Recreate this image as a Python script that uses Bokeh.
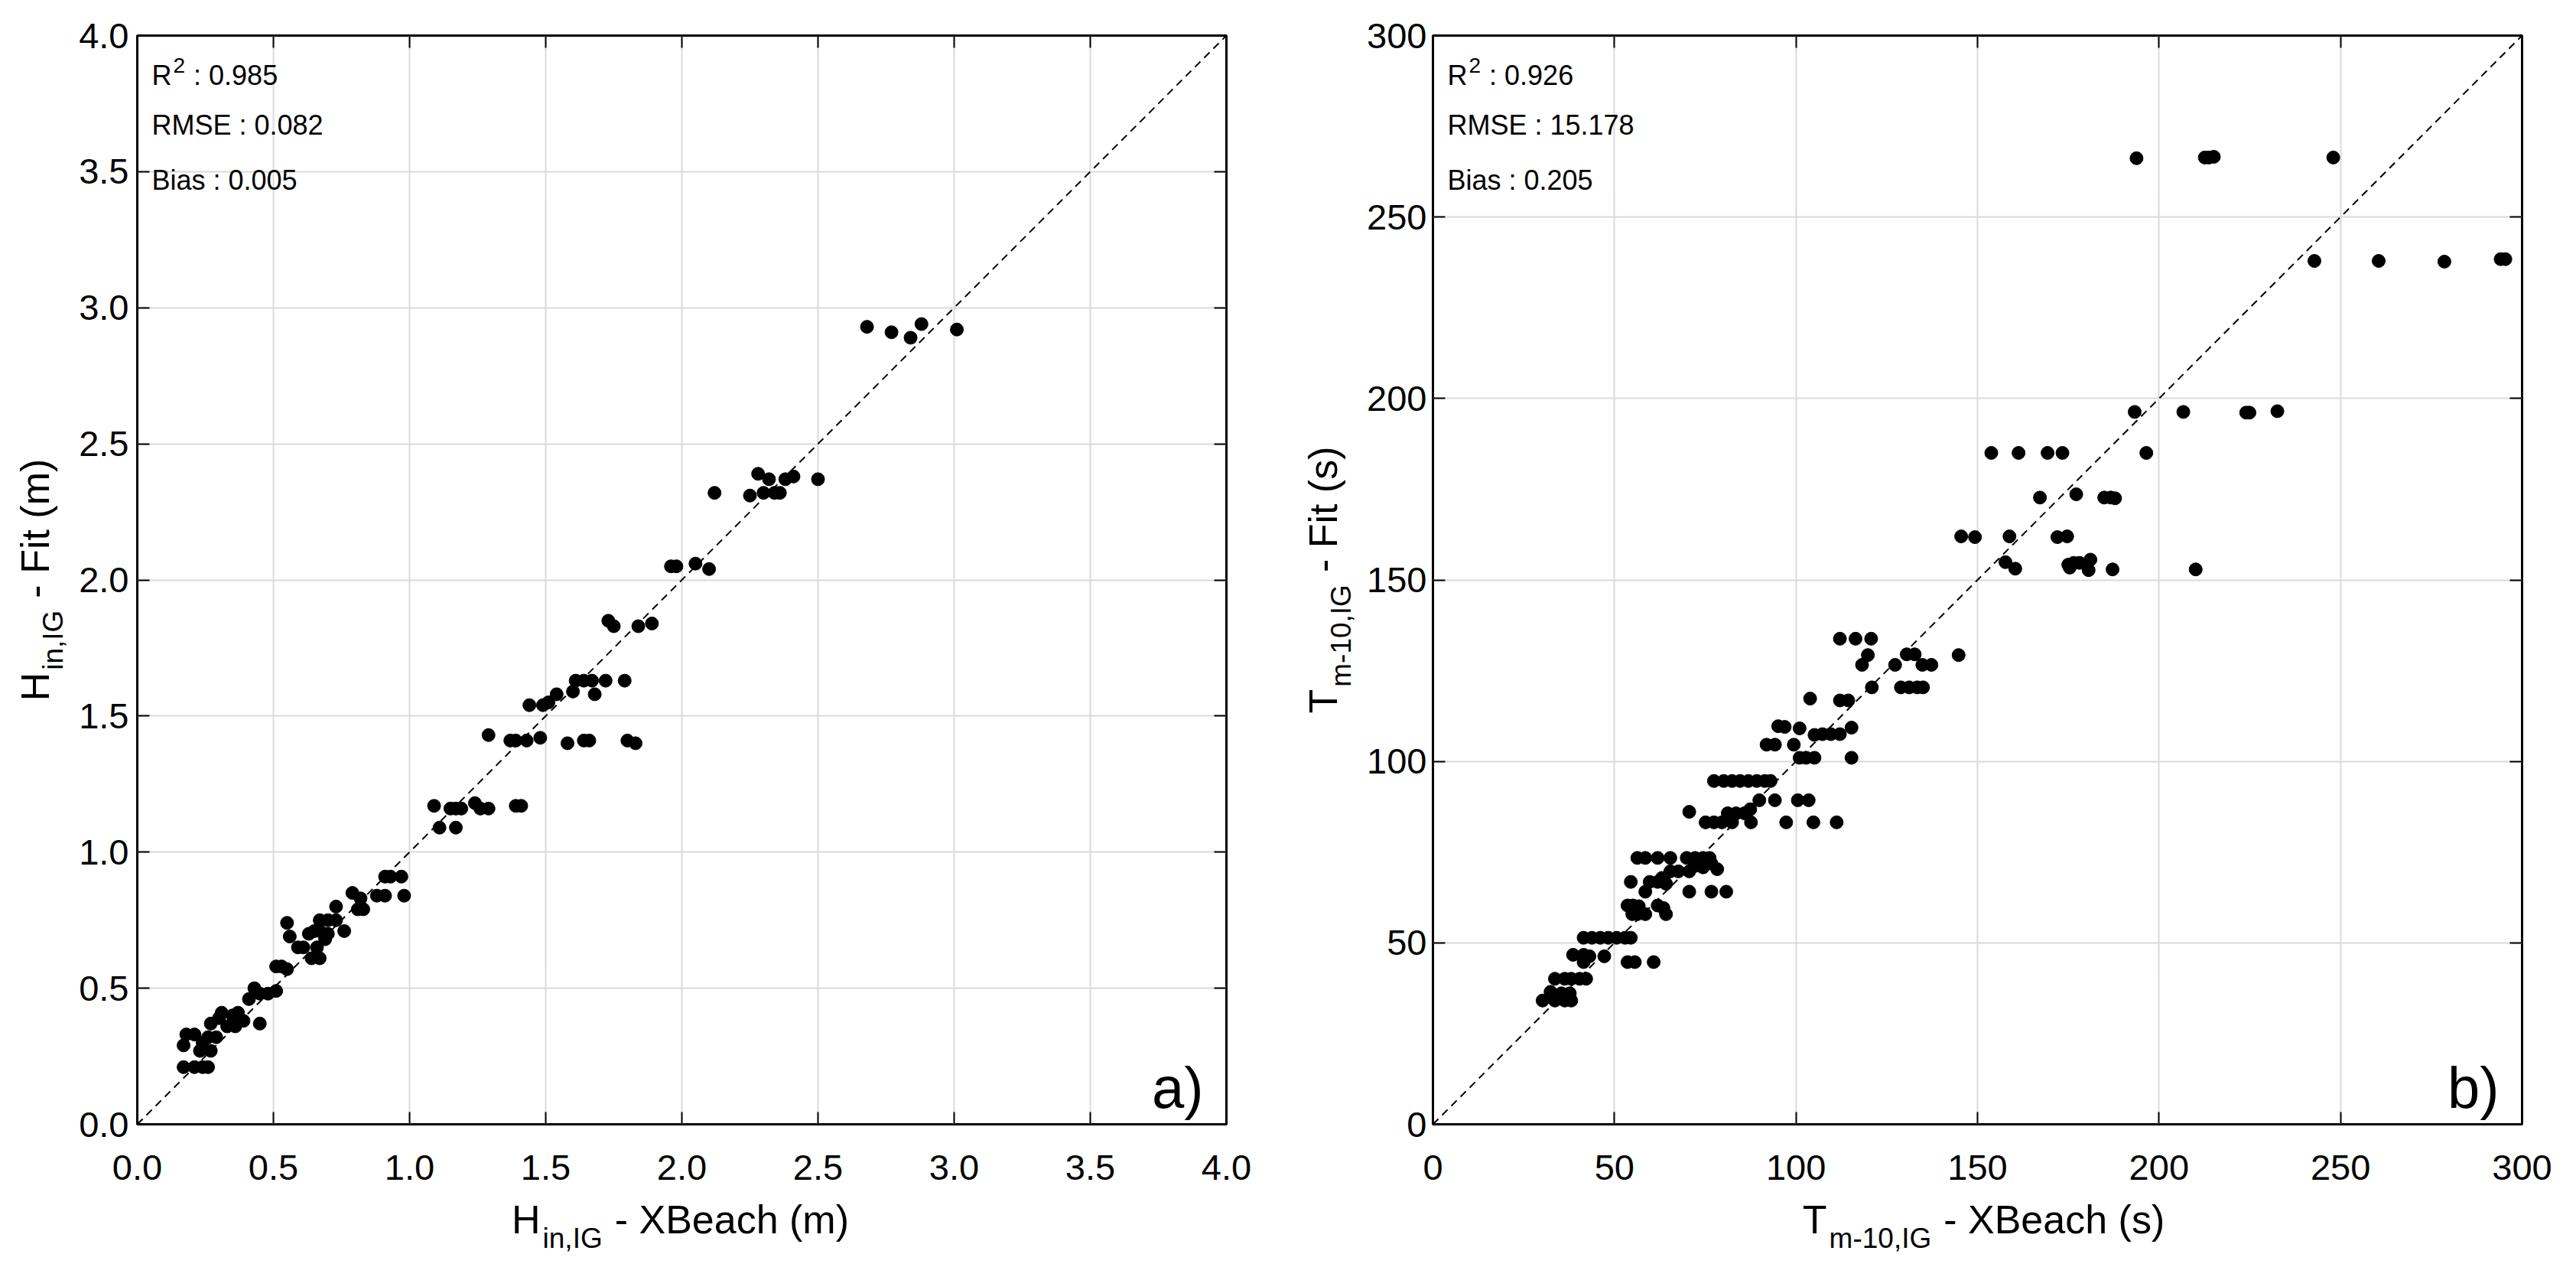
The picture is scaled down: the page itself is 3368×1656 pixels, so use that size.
import math
from bokeh.plotting import figure
from bokeh.models import (Label, Slope, FixedTicker, PrintfTickFormatter, LinearAxis,
                          CustomJSTickFormatter, Range1d)
from bokeh.layouts import row, column
from bokeh.embed import file_html
from bokeh.resources import INLINE

FONT = "Liberation Sans"

# ---------------- data: panel a) H_in,IG ----------------
h_xbeach = [2.68, 2.77, 2.84, 2.88, 3.01,
            2.12, 2.25, 2.28, 2.30, 2.32, 2.34, 2.36, 2.38, 2.41, 2.50,
            1.96, 1.98, 2.05, 2.10,
            1.73, 1.75, 1.84, 1.89,
            1.61, 1.64, 1.67, 1.68, 1.72, 1.79,
            1.54, 1.60, 1.44, 1.49, 1.51,
            1.29, 1.37, 1.39, 1.43, 1.48, 1.58, 1.64, 1.66, 1.80, 1.83,
            1.09, 1.15, 1.17, 1.19, 1.24, 1.26, 1.29, 1.39, 1.41,
            1.11, 1.17,
            0.91, 0.93, 0.97, 0.98,
            0.79, 0.82, 0.88, 0.91, 0.83, 0.81,
            0.73, 0.76,
            0.67, 0.70, 0.73,
            0.55,
            0.56, 0.63, 0.65, 0.67, 0.69, 0.70, 0.59, 0.61, 0.64, 0.67, 0.66,
            0.51, 0.53, 0.55,
            0.43, 0.45, 0.48, 0.51, 0.41,
            0.45, 0.39, 0.37, 0.35, 0.31, 0.30, 0.27, 0.33, 0.36,
            0.18, 0.21, 0.24, 0.26, 0.17, 0.23, 0.27, 0.29,
            0.17, 0.21, 0.24, 0.26]
h_fit = [2.93, 2.91, 2.89, 2.94, 2.92,
         2.32, 2.31, 2.39, 2.32, 2.37, 2.32, 2.32, 2.37, 2.38, 2.37,
         2.05, 2.05, 2.06, 2.04,
         1.85, 1.83, 1.83, 1.84,
         1.63, 1.63, 1.63, 1.58, 1.63, 1.63,
         1.58, 1.59, 1.54, 1.54, 1.55,
         1.43, 1.41, 1.41, 1.41, 1.42, 1.40, 1.41, 1.41, 1.41, 1.40,
         1.17, 1.16, 1.16, 1.16, 1.18, 1.16, 1.16, 1.17, 1.17,
         1.09, 1.09,
         0.91, 0.91, 0.91, 0.84,
         0.85, 0.83, 0.84, 0.84, 0.79, 0.79,
         0.80, 0.71,
         0.75, 0.75, 0.75,
         0.74,
         0.69, 0.70, 0.71, 0.71, 0.68, 0.70, 0.65, 0.65, 0.61, 0.61, 0.65,
         0.58, 0.58, 0.57,
         0.50, 0.48, 0.48, 0.49, 0.46,
         0.37, 0.38, 0.41, 0.40, 0.41, 0.39, 0.37, 0.36, 0.36,
         0.33, 0.33, 0.30, 0.32, 0.29, 0.27, 0.27, 0.32,
         0.21, 0.21, 0.21, 0.21]
h_ticks = [0.0, 0.5, 1.0, 1.5, 2.0, 2.5, 3.0, 3.5, 4.0]
h_stats = ["0.985", "0.082", "0.005"]

# ---------------- data: panel b) Tm-1,0,IG ----------------
t_xbeach = [193.8, 212.6, 213.7, 215.1, 248.0,
            242.8, 260.5, 278.6, 294.1, 295.4,
            193.3, 206.7, 224.0, 224.9, 232.6,
            153.8, 161.3, 169.3, 173.4, 196.5,
            167.2, 177.2, 184.9, 186.7, 187.9,
            145.5, 149.3, 158.8, 172.0, 174.7,
            157.7, 175.0, 176.5, 178.1, 181.1, 180.6, 160.4, 187.2, 210.1, 175.4,
            112.1, 116.4, 120.7,
            144.8, 127.3, 130.5, 132.7, 119.8, 118.2, 134.8, 137.3,
            128.9, 131.2, 133.4, 135.0, 120.9,
            103.9, 112.1, 114.4,
            95.1, 96.9, 101.0, 115.3,
            105.1, 107.3, 109.6, 112.1,
            91.9, 94.2, 99.4,
            101.0, 102.8, 105.1, 115.3,
            77.4, 80.1, 82.4, 84.6, 86.9, 89.2, 91.4, 93.0,
            89.9, 94.2, 100.5, 103.5,
            70.6, 81.2, 83.5, 85.8, 87.4,
            75.1, 77.4, 79.6, 82.4, 87.6, 97.3, 104.8, 111.2,
            56.3, 58.5, 61.9, 65.4, 69.9, 72.2, 74.4, 76.2,
            65.4, 67.6, 70.6, 72.2, 74.4, 76.7, 78.3,
            54.5, 59.7, 61.9, 64.2, 63.1,
            58.5, 70.6, 76.7, 80.8,
            53.6, 55.1, 56.7, 61.9, 63.5,
            54.9, 56.3, 58.5, 64.2,
            41.5, 43.8, 46.1, 48.3, 50.6, 52.9, 54.5,
            38.6, 41.5, 43.1, 47.2,
            41.5, 53.6, 55.6, 60.8,
            33.6, 36.3, 38.1, 40.4, 42.2,
            32.4, 35.4, 37.7,
            30.2, 33.6, 36.3, 38.1]
t_fit = [266.2, 266.4, 266.4, 266.6, 266.4,
         237.9, 237.9, 237.7, 238.4, 238.4,
         196.3, 196.3, 196.1, 196.1, 196.5,
         185.0, 185.0, 185.0, 185.0, 185.0,
         172.7, 173.6, 172.7, 172.7, 172.5,
         162.0, 161.8, 162.0, 161.8, 162.0,
         154.9, 154.2, 154.7, 154.7, 155.6, 152.7, 153.1, 152.9, 152.9, 153.4,
         133.8, 133.8, 133.8,
         129.3, 126.6, 129.5, 129.5, 129.3, 126.6, 126.6, 126.6,
         120.4, 120.4, 120.4, 120.4, 120.4,
         117.3, 116.8, 116.8,
         109.7, 109.5, 109.1, 109.3,
         107.3, 107.5, 107.5, 107.5,
         104.6, 104.6, 104.6,
         101.0, 101.0, 101.0, 101.0,
         94.6, 94.6, 94.6, 94.6, 94.6, 94.6, 94.6, 94.6,
         89.3, 89.3, 89.3, 89.3,
         86.1, 85.7, 85.7, 85.7, 86.8,
         83.2, 83.2, 83.2, 83.2, 83.2, 83.2, 83.2, 83.2,
         73.4, 73.4, 73.4, 73.4, 73.4, 73.4, 73.4, 73.4,
         69.7, 69.7, 69.7, 71.2, 70.8, 71.9, 70.3,
         66.8, 66.8, 66.8, 66.3, 67.9,
         64.1, 64.1, 64.1, 64.1,
         60.3, 60.3, 60.1, 60.3, 59.6,
         57.9, 57.9, 57.9, 57.9,
         51.4, 51.4, 51.4, 51.4, 51.4, 51.4, 51.4,
         46.7, 46.7, 46.3, 46.3,
         44.7, 44.7, 44.7, 44.7,
         40.1, 40.1, 40.1, 40.1, 40.1,
         36.5, 36.1, 36.1,
         34.1, 34.1, 34.1, 34.1]
t_ticks = [0, 50, 100, 150, 200, 250, 300]
t_stats = ["0.926", "15.178", "0.205"]

# approximate Arial/Liberation Sans advance widths (em)
W = {"H": .722, "T": .611, "i": .222, "n": .556, ",": .278, "I": .278, "G": .778,
     "m": .833, "-": .333, "1": .556, "0": .556, " ": .278, "X": .667, "B": .667,
     "e": .556, "a": .556, "c": .5, "h": .556, "(": .333, ")": .333, "s": .5,
     "F": .611, "t": .278, "R": .722, "2": .556}


def tw(s, size):
    return sum(W.get(ch, .556) for ch in s) * size


FW, FH = 1424, 1423
TOP, BOT = 46, 96          # borders above / below the frame of a main panel
XT_H = 1640 - TOP - FH - BOT   # height of the x-title strip
XSHIFT = 78                # empirical horizontal correction in the x-title strips


def lab(p, text, x, y, size, angle=0.0, align="left", baseline="alphabetic"):
    p.add_layout(Label(x=x, y=y, x_units="screen", y_units="screen", text=text,
                       text_font=FONT, text_font_size=f"{size}px", text_color="black",
                       angle=angle, text_align=align, text_baseline=baseline))


def blank(w, h):
    f = figure(frame_width=w, frame_height=h, output_backend="svg", toolbar_location=None,
               x_axis_location=None, y_axis_location=None,
               min_border_left=0, min_border_right=0, min_border_top=0, min_border_bottom=0,
               background_fill_color="white", border_fill_color="white")
    f.outline_line_color = None
    f.grid.visible = False
    return f


def make_panel(xs, ys, lo, hi, ticks, fmt, stats, letter, bl, br, ystand):
    p = figure(frame_width=FW, frame_height=FH, x_range=Range1d(lo, hi), y_range=Range1d(lo, hi),
               output_backend="svg", toolbar_location=None,
               min_border_left=bl, min_border_right=br, min_border_top=TOP, min_border_bottom=BOT,
               background_fill_color="white", border_fill_color="white")
    p.outline_line_color = "black"
    p.outline_line_width = 3

    for ax in (p.xaxis[0], p.yaxis[0]):
        ax.ticker = FixedTicker(ticks=ticks)
        if fmt:
            ax.formatter = PrintfTickFormatter(format=fmt)
        ax.axis_label = None
        ax.major_tick_in = 16
        ax.major_tick_out = 0
        ax.minor_tick_line_color = None
        ax.major_tick_line_color = "black"
        ax.major_tick_line_width = 2
        ax.axis_line_color = None
        ax.major_label_text_font = FONT
        ax.major_label_text_font_size = "47px"
        ax.major_label_text_color = "black"
    p.xaxis.major_label_standoff = 40
    p.yaxis.major_label_standoff = ystand

    for loc in ("above", "right"):
        a = LinearAxis(ticker=FixedTicker(ticks=ticks),
                       formatter=CustomJSTickFormatter(code="return ''"),
                       major_tick_in=16, major_tick_out=0, minor_tick_line_color=None,
                       major_tick_line_color="black", major_tick_line_width=2,
                       axis_line_color=None, major_label_text_font_size="1px",
                       major_label_standoff=0)
        p.add_layout(a, loc)

    p.grid.grid_line_color = "#dadada"
    p.grid.grid_line_width = 2

    p.add_layout(Slope(gradient=1, y_intercept=0, line_color="black",
                       line_dash="10 7", line_width=2))
    p.scatter(xs, ys, size=17, color="black", line_color="black")

    # statistics
    base = [FH - 52, FH - 117, FH - 189]
    lab(p, "R", 19, base[0], 36)
    x2 = 19 + tw("R", 36) + 2
    lab(p, "2", x2, base[0] + 13, 28)
    lab(p, ": " + stats[0], x2 + tw("2", 28) + 11, base[0], 36)
    lab(p, "RMSE : " + stats[1], 19, base[1], 36)
    lab(p, "Bias : " + stats[2], 19, base[2], 36)

    # panel letter
    lab(p, letter, FW - 30, 48, 76, align="right")
    return p


def x_title(width, frame_left, sym, sub, rest):
    f = blank(width, XT_H)
    m, s = 52, 37
    total = tw(sym, m) + 3 + tw(sub, s) + 16 + tw(rest, m)
    x0 = frame_left + FW / 2 - total / 2 - XSHIFT
    lab(f, sym, x0, 47, m)
    lab(f, sub, x0 + tw(sym, m) + 3, 22, s)
    lab(f, rest, x0 + tw(sym, m) + 3 + tw(sub, s) + 16, 47, m)
    return f


def y_title(width, base_x, sym, sub, rest):
    h = TOP + FH + BOT
    f = blank(width, h)
    m, s = 52, 37
    total = tw(sym, m) + 3 + tw(sub, s) + 16 + tw(rest, m)
    centre = BOT + FH / 2
    y0 = centre - total / 2
    ang = math.pi / 2
    lab(f, sym, base_x, y0, m, angle=ang)
    lab(f, sub, base_x + 24, y0 + tw(sym, m) + 3, s, angle=ang)
    lab(f, rest, base_x, y0 + tw(sym, m) + 3 + tw(sub, s) + 16, m, angle=ang)
    return f


# left panel: y-title strip 100 px, main figure border_left 76
A_BL, A_BR = 76, 92
pa = make_panel(h_xbeach, h_fit, 0, 4, h_ticks, "%.1f", h_stats, "a)", A_BL, A_BR, 11)
ay = y_title(100, 45, "H", "in,IG", "- Fit (m)")
ax_t = x_title(A_BL + FW + A_BR, A_BL, "H", "in,IG", "- XBeach (m)")

# right panel: y-title strip 89 px, main figure border_left 86
B_BL, B_BR = 86, 61
pb = make_panel(t_xbeach, t_fit, 0, 300, t_ticks, None, t_stats, "b)", B_BL, B_BR, 8)
by = y_title(89, 34, "T", "m-10,IG", "- Fit (s)")
bx_t = x_title(B_BL + FW + B_BR, B_BL, "T", "m-10,IG", "- XBeach (s)")

layout = row(ay, column(pa, ax_t), by, column(pb, bx_t))
open("out.html", "w").write(file_html(layout, INLINE))
